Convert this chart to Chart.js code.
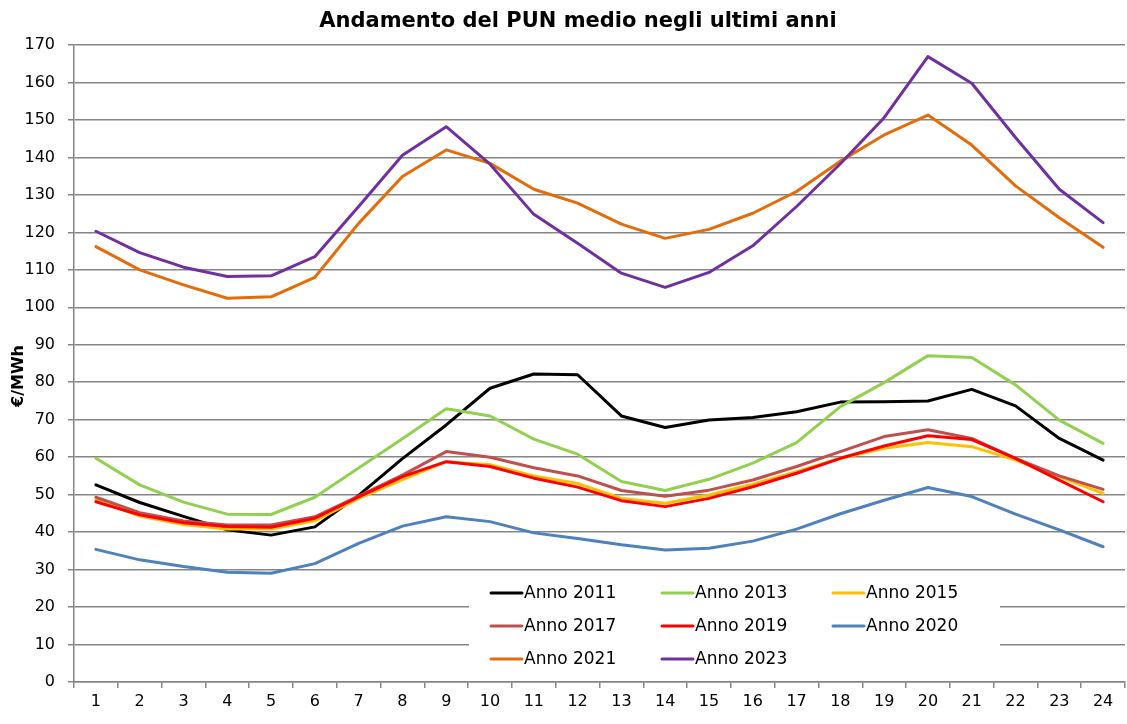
<!DOCTYPE html>
<html><head><meta charset="utf-8">
<script src="https://cdn.jsdelivr.net/npm/chart.js@4"></script>
<style>html,body{margin:0;padding:0;background:#fff}#wrap{width:1127px;height:724px}</style>
</head><body><div id="wrap"><canvas id="c" width="1127" height="724"></canvas></div>
<script>
const hours = ["1","2","3","4","5","6","7","8","9","10","11","12","13","14","15","16","17","18","19","20","21","22","23","24"];
const anno2011 = [52.6, 47.9, 44.2, 40.6, 39.2, 41.4, 49.8, 59.6, 68.6, 78.4, 82.2, 82.0, 71.0, 67.9, 69.9, 70.6, 72.1, 74.7, 74.8, 75.0, 78.1, 73.7, 65.0, 59.2];
const anno2013 = [59.7, 52.6, 48.0, 44.8, 44.7, 49.3, 57.1, 64.9, 72.9, 71.0, 64.8, 60.8, 53.5, 51.1, 54.1, 58.4, 63.9, 73.5, 79.9, 87.1, 86.6, 79.3, 69.9, 63.7];
const anno2015 = [48.6, 44.3, 42.0, 40.8, 40.8, 43.0, 49.0, 54.0, 58.8, 58.0, 55.0, 53.0, 49.0, 47.7, 49.9, 52.8, 56.1, 59.7, 62.4, 63.9, 62.8, 59.2, 54.8, 50.3];
const anno2017 = [49.3, 45.2, 43.0, 41.9, 41.9, 44.1, 49.6, 55.2, 61.5, 60.0, 57.2, 55.0, 51.1, 49.6, 51.2, 53.9, 57.5, 61.5, 65.5, 67.3, 65.0, 59.7, 55.0, 51.4];
const anno2019 = [48.1, 44.6, 42.5, 41.5, 41.3, 43.7, 49.4, 54.8, 58.8, 57.5, 54.4, 52.0, 48.4, 46.8, 49.0, 52.1, 55.7, 59.7, 63.0, 65.7, 64.7, 59.7, 53.9, 48.1];
const anno2020 = [35.4, 32.6, 30.8, 29.3, 29.0, 31.6, 37.0, 41.6, 44.1, 42.8, 39.8, 38.3, 36.6, 35.2, 35.7, 37.6, 40.8, 44.9, 48.5, 51.9, 49.5, 44.8, 40.6, 36.1];
const anno2021 = [116.2, 110.0, 106.0, 102.4, 102.8, 108.0, 122.4, 134.9, 142.0, 138.4, 131.5, 127.8, 122.2, 118.4, 120.8, 125.1, 130.9, 139.0, 146.0, 151.3, 143.3, 132.4, 123.9, 116.0];
const anno2023 = [120.3, 114.6, 110.7, 108.2, 108.4, 113.5, 126.9, 140.6, 148.2, 138.2, 124.8, 117.1, 109.1, 105.3, 109.3, 116.4, 126.9, 138.3, 150.6, 166.9, 159.8, 145.3, 131.5, 122.6];
const seriesLabels = ["Anno 2011","Anno 2013","Anno 2015","Anno 2017","Anno 2019","Anno 2020","Anno 2021","Anno 2023"];
const seriesColors = ["#000000","#92D050","#FFC000","#C0504D","#FF0000","#4F81BD","#E46C0A","#7030A0"];
const seriesValues = [anno2011, anno2013, anno2015, anno2017, anno2019, anno2020, anno2021, anno2023];
const chartTitle = 'Andamento del PUN medio negli ultimi anni';
const yAxisTitle = '€/MWh';

const FONT = "'DejaVu Sans', sans-serif";

const datasets = seriesValues.map((vals, i) => ({
  label: seriesLabels[i],
  data: vals,
  borderColor: seriesColors[i],
  backgroundColor: seriesColors[i],
  borderWidth: 3,
  pointRadius: 0,
  pointHoverRadius: 0,
  tension: 0,
  fill: false,
  borderCapStyle: 'round',
  borderJoinStyle: 'round',
  order: seriesValues.length - i
}));

const decorations = {
  id: 'decorations',
  afterDatasetsDraw(chart) {
    const ctx = chart.ctx;
    ctx.save();
    // legend inside plot area
    ctx.fillStyle = '#ffffff';
    ctx.fillRect(469, 572, 531, 108);
    const colX = [491, 662, 833];
    const rowY = [593, 626, 659];
    chart.data.datasets.forEach((ds, i) => {
      const cx = colX[i % 3], cy = rowY[Math.floor(i / 3)];
      ctx.strokeStyle = ds.borderColor;
      ctx.lineWidth = 3;
      ctx.lineCap = 'round';
      ctx.beginPath();
      ctx.moveTo(cx, cy);
      ctx.lineTo(cx + 31, cy);
      ctx.stroke();
      ctx.fillStyle = '#000';
      ctx.font = "17px " + FONT;
      ctx.textBaseline = 'middle';
      ctx.textAlign = 'left';
      ctx.fillText(ds.label, cx + 33, cy + 1);
    });
    // chart title
    ctx.font = "bold 21px " + FONT;
    ctx.textAlign = 'center';
    ctx.textBaseline = 'middle';
    ctx.fillStyle = '#000';
    ctx.fillText(chartTitle, 578, 22);
    // y axis title
    ctx.translate(19, 376);
    ctx.rotate(-Math.PI / 2);
    ctx.font = "bold 16px " + FONT;
    ctx.fillText(yAxisTitle, 0, 0);
    ctx.restore();
  }
};

new Chart(document.getElementById('c'), {
  type: 'line',
  data: { labels: hours, datasets },
  options: {
    responsive: false,
    devicePixelRatio: 1,
    animation: false,
    layout: { padding: { left: 0, right: 2, top: 45, bottom: 0 } },
    plugins: {
      legend: { display: false },
      tooltip: { enabled: false },
      title: { display: false }
    },
    scales: {
      x: {
        type: 'category',
        offset: true,
        grid: { display: true, drawOnChartArea: false, drawTicks: true, tickLength: 6, color: '#868686', lineWidth: 1.5, offset: true },
        border: { display: true, color: '#868686', width: 1.5 },
        ticks: { color: '#000', font: { family: FONT, size: 16 }, padding: 4, maxRotation: 0, autoSkip: false },
        afterFit(scale) { scale.height = 42; }
      },
      y: {
        min: 0, max: 170,
        grid: { color: '#868686', lineWidth: 1.5, tickLength: 6, drawTicks: true },
        border: { display: true, color: '#868686', width: 1.5 },
        ticks: { stepSize: 10, color: '#000', font: { family: FONT, size: 16 }, padding: 13 },
        afterFit(scale) { scale.width = 74; }
      }
    }
  },
  plugins: [decorations]
});
</script>
</body></html>
